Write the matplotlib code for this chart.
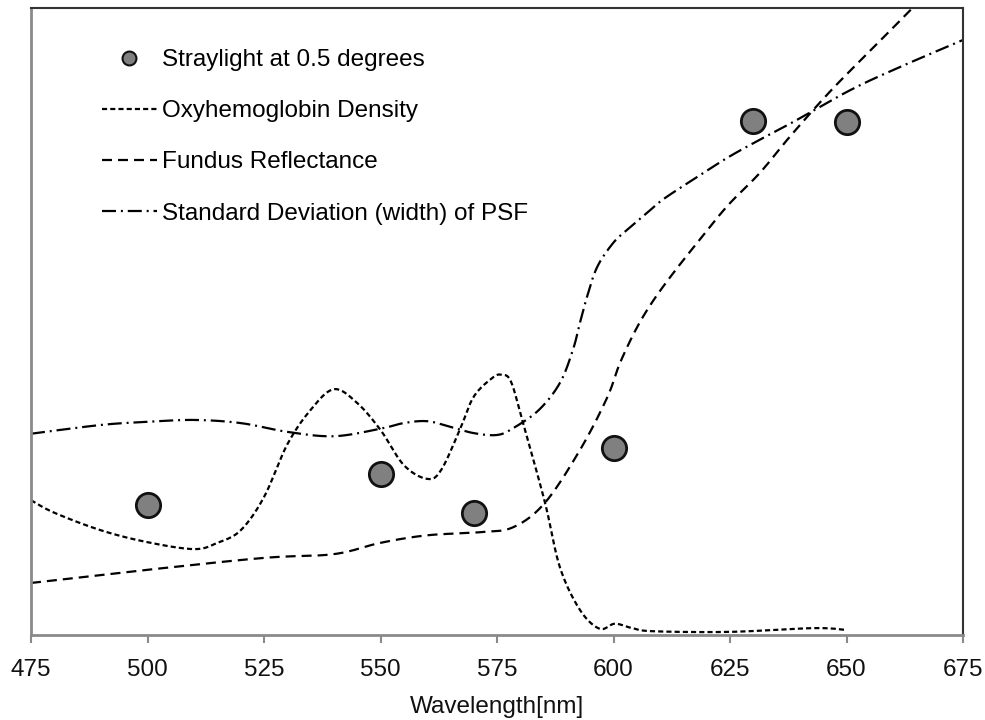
import numpy as np
import matplotlib
matplotlib.use("Agg")
import matplotlib.pyplot as plt
from matplotlib.lines import Line2D

plt.rcParams['font.family'] = ['Liberation Sans', 'DejaVu Sans']

# ---- data (relative units) ----
stray_wl = [500, 550, 570, 600, 630, 650]
stray_val = [20.7, 25.7, 19.5, 29.8, 82.0, 81.8]

oxy_wl = [475, 480, 490, 500, 510, 515, 520, 525, 530, 535, 540, 545, 550, 555,
          560, 563, 567, 570, 574, 576, 578, 580.6, 585.3, 588.5, 592.8, 597,
          600.3, 604, 608.5, 625, 643, 650]
oxy_val = [21.5, 19.5, 16.7, 14.8, 13.7, 14.7, 16.7, 22.0, 30.4, 35.9, 39.2, 37.0,
           32.7, 27.1, 24.9, 26.3, 32.7, 38.0, 41.0, 41.5, 40.4, 33.8, 21.1, 10.8,
           4.0, 1.0, 1.8, 1.1, 0.6, 0.5, 1.1, 0.8]

fundus_wl = [475, 500, 525, 540, 550, 560, 571.4, 578.5, 585.3, 592.8, 598.6,
             601.4, 605, 608.5, 612.8, 617.9, 624.4, 631.4, 638.1, 647, 657.8, 666]
fundus_val = [8.3, 10.4, 12.3, 12.9, 14.7, 15.9, 16.4, 17.2, 21.1, 29.5, 37.8,
              43.4, 49.0, 53.3, 57.7, 62.5, 68.4, 73.7, 79.7, 87.1, 95.2, 101.4]

psf_wl = [475, 490, 500, 510, 520, 530, 540, 550, 555, 560, 565, 570, 575, 578.5,
          584, 588.5, 591.3, 592.8, 594.3, 596.5, 599.9, 602.9, 607.2, 610.5, 617,
          624.4, 631.4, 638.5, 650.8, 661.5, 675]
psf_val = [32.1, 33.5, 34.0, 34.3, 33.8, 32.4, 31.7, 32.9, 33.8, 34.1, 33.2, 32.2,
           31.9, 33.0, 35.9, 40.2, 45.5, 49.8, 53.9, 58.7, 62.5, 64.6, 67.3, 69.4,
           72.6, 76.1, 79.0, 81.8, 86.9, 90.6, 94.9]

labels = ["Straylight at 0.5 degrees", "Oxyhemoglobin Density",
          "Fundus Reflectance", "Standard Deviation (width) of PSF"]
xticks = [475, 500, 525, 550, 575, 600, 625, 650, 675]


def smooth(x, y, n=20):
    """Excel-like smoothed line (Catmull-Rom / Bezier) through the points."""
    p = np.column_stack([x, y]).astype(float)
    ext = np.vstack([p[0], p, p[-1]])
    out = []
    t = np.linspace(0, 1, n, endpoint=False)[:, None]
    for i in range(1, len(ext) - 2):
        p0, p1, p2, p3 = ext[i - 1], ext[i], ext[i + 1], ext[i + 2]
        c1 = p1 + (p2 - p0) / 6.0
        c2 = p2 - (p3 - p1) / 6.0
        seg = ((1 - t) ** 3) * p1 + 3 * ((1 - t) ** 2) * t * c1 + 3 * (1 - t) * t ** 2 * c2 + t ** 3 * p2
        out.append(seg)
    out.append(p[-1][None, :])
    s = np.vstack(out)
    return s[:, 0], s[:, 1]


fig = plt.figure(figsize=(9.85, 7.2), dpi=100)
ax = fig.add_axes([31 / 985, 1 - 635 / 720, (963 - 31) / 985, (635 - 8) / 720])

lw = 1.6
oxy_d = (2.3, 1.4)
fund_d = (4.5, 2.7)
psf_d = (6.3, 2.2, 0.9, 2.2)

x, y = smooth(oxy_wl, oxy_val)
ax.plot(x, y, color='black', lw=lw, dashes=oxy_d, zorder=2)
x, y = smooth(fundus_wl, fundus_val)
ax.plot(x, y, color='black', lw=lw, dashes=fund_d, zorder=2)
x, y = smooth(psf_wl, psf_val)
ax.plot(x, y, color='black', lw=lw, dashes=psf_d, zorder=2)
ax.plot(stray_wl, stray_val, ls='none', marker='o', markersize=17.5,
        mfc='#808080', mec='#111111', mew=2, zorder=3)

fs = 17.5
ax.set_xlim(475, 675)
ax.set_ylim(0, 100)
ax.set_xticks(xticks)
ax.set_xticklabels([str(v) for v in xticks])
ax.set_yticks([])
ax.tick_params(axis='x', direction='out', length=6, width=1.5, color='#8a8a8a',
               labelsize=fs, pad=11, labelcolor='#111111')
ax.set_xlabel("Wavelength[nm]", fontsize=fs, color='#111111', labelpad=11)

for s in ['left', 'bottom']:
    ax.spines[s].set_color('#8a8a8a')
    ax.spines[s].set_linewidth(2)
for s in ['top', 'right']:
    ax.spines[s].set_color('#333333')
    ax.spines[s].set_linewidth(1.5)

handles = [
    Line2D([], [], ls='none', marker='o', markersize=10, mfc='#808080', mec='#111111', mew=1.5),
    Line2D([], [], color='black', lw=lw, dashes=oxy_d),
    Line2D([], [], color='black', lw=lw, dashes=fund_d),
    Line2D([], [], color='black', lw=lw, dashes=psf_d),
]
ax.legend(handles, labels, loc='upper left', bbox_to_anchor=((102 - 31) / 932, (635 - 49) / 627),
          frameon=False, fontsize=fs, handlelength=2.25, handletextpad=0.2,
          labelspacing=1.2, borderpad=0, borderaxespad=0, numpoints=1)

fig.savefig("out.png", dpi=100)
